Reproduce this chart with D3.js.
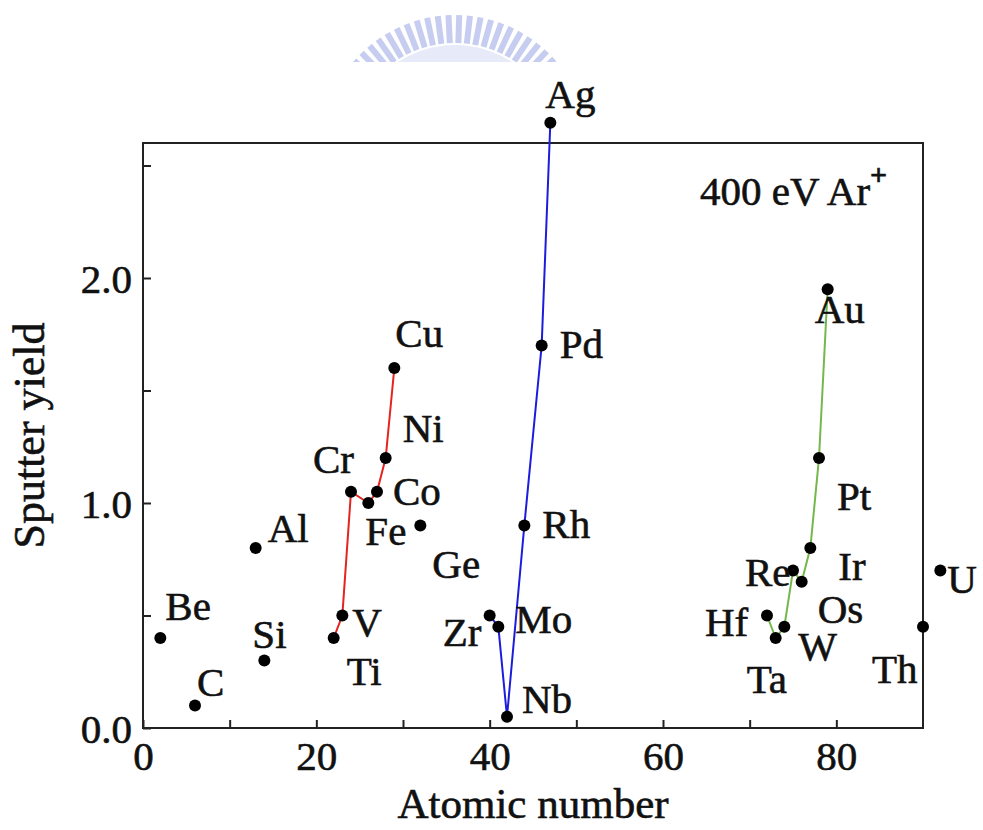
<!DOCTYPE html>
<html lang="en">
<head>
    <meta charset="UTF-8">
    <title>Sputter yield vs atomic number</title>
    <script src="https://d3js.org/d3.v7.min.js"></script>
    <style>
        body { margin: 0; background: #fff; }
        svg text { font-family: "Liberation Serif", "Times New Roman", serif; fill: #111; stroke: #111; stroke-width: 0.6px; }
    </style>
</head>
<body>
<svg id="chart" width="983" height="830"></svg>
<script>
    // values
    var symbols = ["Be", "C", "Al", "Si", "Ti", "V", "Cr", "Fe", "Co", "Ni", "Cu", "Ge",
        "Zr", "Mo", "Nb", "Rh", "Pd", "Ag", "Hf", "Ta", "W", "Re", "Os", "Ir", "Pt", "Au", "Th", "U"];
    var atomicNumber = [2, 6, 13, 14, 22, 23, 24, 26, 27, 28, 29, 32,
        40, 41, 42, 44, 46, 47, 72, 73, 74, 75, 76, 77, 78, 79, 90, 92];
    var sputterYield = [0.4, 0.1, 0.8, 0.3, 0.4, 0.5, 1.05, 1.0, 1.05, 1.2, 1.6, 0.9,
        0.5, 0.45, 0.05, 0.9, 1.7, 2.69, 0.5, 0.4, 0.45, 0.7, 0.65, 0.8, 1.2, 1.95, 0.45, 0.7];

    var redGroup = ["Ti", "V", "Cr", "Fe", "Co", "Ni", "Cu"];
    var blueGroup = ["Zr", "Mo", "Nb", "Rh", "Pd", "Ag"];
    var greenGroup = ["Hf", "Ta", "W", "Re", "Os", "Ir", "Pt", "Au"];

    var xTicks = [0, 10, 20, 30, 40, 50, 60, 70, 80];
    var xTickLabels = [0, 20, 40, 60, 80];
    var yTicks = [0, 0.5, 1.0, 1.5, 2.0, 2.5];
    var yTickLabels = [0, 1.0, 2.0];

    // label offsets (px) from each point: left edge / baseline
    var labelOffset = {
        Be: [5, -18], C: [2, -10], Al: [12, -6], Si: [-12, -13], Ti: [13, 47], V: [10, 20],
        Cr: [-38, -19], Fe: [-3, 42], Co: [16, 13], Ni: [17, -16], Cu: [1, -21], Ge: [12, 52],
        Zr: [-47, 30], Mo: [17, 6], Nb: [15, -4], Rh: [18, 12], Pd: [18, 12], Ag: [-5, -15],
        Hf: [-62, 20], Ta: [-29, 55], W: [14, 33], Re: [-48, 15], Os: [16, 41], Ir: [28, 32],
        Pt: [18, 52], Au: [-13, 34], Th: [-51, 56], U: [7, 22]
    };

    var svg = d3.select("#chart");

    var plotLeft = 143, plotRight = 923, plotTop = 143, plotBottom = 728;

    var x = d3.scaleLinear().domain([0, 90]).range([plotLeft, plotRight]);
    var y = d3.scaleLinear().domain([0, 2.6]).range([plotBottom, plotTop]);

    var points = symbols.map(function(s, i) {
        return { sym: s, z: atomicNumber[i], v: sputterYield[i] };
    });
    var bySym = {};
    points.forEach(function(p) { bySym[p.sym] = p; });

    // faint watermark at the top (cut off)
    var defs = svg.append("defs");
    defs.append("clipPath").attr("id", "wmclip")
        .append("rect").attr("x", 300).attr("y", 0).attr("width", 320).attr("height", 62);
    var wm = svg.append("g")
        .attr("clip-path", "url(#wmclip)")
        .append("g")
        .attr("transform", "translate(455,149)");
    wm.append("path")
        .attr("d", d3.arc().innerRadius(86).outerRadius(104).startAngle(-1.2).endAngle(1.2)())
        .attr("fill", "#e7eaf8");
    wm.selectAll("line.bar")
        .data(d3.range(-58, 59, 4.6))
        .enter().append("line")
        .attr("x1", function(a) { return 106 * Math.sin(a * Math.PI / 180); })
        .attr("y1", function(a) { return -106 * Math.cos(a * Math.PI / 180); })
        .attr("x2", function(a) { return 134 * Math.sin(a * Math.PI / 180); })
        .attr("y2", function(a) { return -134 * Math.cos(a * Math.PI / 180); })
        .attr("stroke", "#c6cdf0")
        .attr("stroke-width", 6);

    // axes
    var xAxis = d3.axisBottom(x)
        .tickValues(xTicks)
        .tickSizeInner(-8)
        .tickSizeOuter(0)
        .tickPadding(14)
        .tickFormat(function(d) { return xTickLabels.indexOf(d) >= 0 ? d : ""; });
    var gx = svg.append("g")
        .attr("transform", "translate(0," + plotBottom + ")")
        .call(xAxis);

    var yAxis = d3.axisLeft(y)
        .tickValues(yTicks)
        .tickSizeInner(-8)
        .tickSizeOuter(0)
        .tickPadding(11)
        .tickFormat(function(d) { return yTickLabels.indexOf(d) >= 0 ? d3.format(".1f")(d) : ""; });
    var gy = svg.append("g")
        .attr("transform", "translate(" + plotLeft + ",0)")
        .call(yAxis);

    [gx, gy].forEach(function(g) {
        g.select(".domain").remove();
        g.selectAll(".tick line").attr("stroke", "#222").attr("stroke-width", 2);
        g.selectAll(".tick text")
            .attr("font-size", 41)
            .attr("font-family", "Liberation Serif")
            .attr("fill", "#111");
    });
    gx.selectAll(".tick text").attr("dy", "0.68em");
    gy.selectAll(".tick text").attr("dy", "0.36em");

    // frame
    svg.append("rect")
        .attr("x", plotLeft).attr("y", plotTop)
        .attr("width", plotRight - plotLeft).attr("height", plotBottom - plotTop)
        .attr("fill", "none")
        .attr("stroke", "#222")
        .attr("stroke-width", 2);

    // connecting lines
    var line = d3.line()
        .x(function(d) { return x(d.z); })
        .y(function(d) { return y(d.v); });

    var series = [
        { group: redGroup, color: "#e3241f" },
        { group: blueGroup, color: "#1c1cdc" },
        { group: greenGroup, color: "#74b84c" }
    ];
    series.forEach(function(s) {
        svg.append("path")
            .datum(s.group.map(function(k) { return bySym[k]; }))
            .attr("d", line)
            .attr("fill", "none")
            .attr("stroke", s.color)
            .attr("stroke-width", 2);
    });

    // points
    svg.selectAll("circle.pt")
        .data(points)
        .enter().append("circle")
        .attr("class", "pt")
        .attr("cx", function(d) { return x(d.z); })
        .attr("cy", function(d) { return y(d.v); })
        .attr("r", 6)
        .attr("fill", "#000");

    // element labels
    svg.selectAll("text.lbl")
        .data(points)
        .enter().append("text")
        .attr("class", "lbl")
        .attr("x", function(d) { return x(d.z) + labelOffset[d.sym][0]; })
        .attr("y", function(d) { return y(d.v) + labelOffset[d.sym][1]; })
        .attr("font-size", 41)
        .text(function(d) { return d.sym; });

    // ion annotation
    var ion = svg.append("text")
        .attr("x", 700).attr("y", 205)
        .attr("font-size", 41)
        .text("400 eV Ar");
    ion.append("tspan")
        .attr("dy", -20)
        .attr("font-size", 30)
        .attr("font-weight", "bold")
        .text("+");

    // axis titles
    svg.append("text")
        .attr("x", (plotLeft + plotRight) / 2)
        .attr("y", 818)
        .attr("text-anchor", "middle")
        .attr("font-size", 43)
        .text("Atomic number");

    svg.append("text")
        .attr("transform", "translate(44," + ((plotTop + plotBottom) / 2) + ") rotate(-90)")
        .attr("text-anchor", "middle")
        .attr("font-size", 44)
        .text("Sputter yield");
</script>
</body>
</html>
